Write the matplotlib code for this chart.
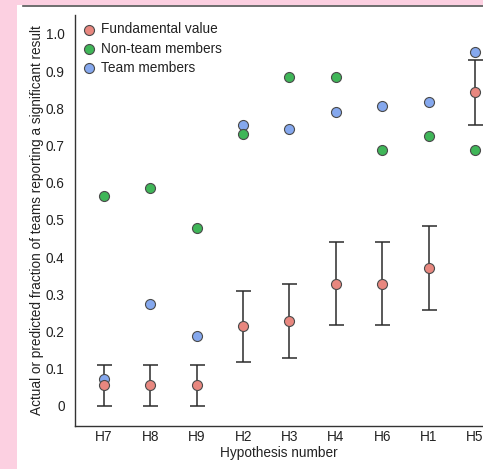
import matplotlib
matplotlib.use("Agg")
import matplotlib.pyplot as plt
from matplotlib.patches import Rectangle
from matplotlib.lines import Line2D

plt.rcParams['font.family'] = ['Liberation Sans', 'DejaVu Sans']

# data
hypotheses = ['H7', 'H8', 'H9', 'H2', 'H3', 'H4', 'H6', 'H1', 'H5']
fundamental = [0.057, 0.057, 0.057, 0.214, 0.229, 0.329, 0.329, 0.371, 0.843]
ci_low = [0.0, 0.0, 0.0, 0.119, 0.129, 0.218, 0.218, 0.258, 0.756]
ci_high = [0.11, 0.11, 0.11, 0.31, 0.327, 0.44, 0.44, 0.484, 0.929]
non_team = [0.565, 0.585, 0.477, 0.730, 0.883, 0.883, 0.688, 0.726, 0.688]
team = [0.073, 0.274, 0.189, 0.755, 0.744, 0.791, 0.806, 0.816, 0.952]

ytick_vals = [0, 0.1, 0.2, 0.3, 0.4, 0.5, 0.6, 0.7, 0.8, 0.9, 1.0]
ytick_labels = ['0', '0.1', '0.2', '0.3', '0.4', '0.5', '0.6', '0.7', '0.8', '0.9', '1.0']

c_red = '#e8877f'
c_green = '#3fb658'
c_blue = '#85a8ee'
c_edge = '#4a4a4a'
c_text = '#222222'
fs = 9.8

W, H = 483, 469
fig = plt.figure(figsize=(W / 100, H / 100), dpi=100)
fig.patch.set_facecolor('white')

# pink frame of the screenshot
fig.patches.append(Rectangle((0, 0), 17 / W, 1, transform=fig.transFigure,
                             facecolor='#fcd0e1', edgecolor='none', zorder=-10))
fig.patches.append(Rectangle((0, 1 - 5 / H), 1, 5 / H, transform=fig.transFigure,
                             facecolor='#fcd0e1', edgecolor='none', zorder=-10))
fig.add_artist(Line2D([23 / W, 1], [1 - 6 / H, 1 - 6 / H], transform=fig.transFigure,
                      color='#555555', linewidth=1.2))

ax = fig.add_axes([75 / W, 43 / H, 1 - 75 / W, (426 - 15) / H])
x = list(range(len(hypotheses)))

err_lo = [f - l for f, l in zip(fundamental, ci_low)]
err_hi = [h - f for f, h in zip(fundamental, ci_high)]
ax.errorbar(x, fundamental, yerr=[err_lo, err_hi], fmt='none', ecolor='#2b2b2b',
            elinewidth=1.1, capsize=5.4, capthick=1.1, zorder=1)

ms = 52
s_team = ax.scatter(x, team, s=ms, color=c_blue, edgecolors=c_edge, linewidths=0.8,
                    zorder=2, label='Team members')
s_non = ax.scatter(x, non_team, s=ms, color=c_green, edgecolors=c_edge, linewidths=0.8,
                   zorder=3, label='Non-team members')
s_fund = ax.scatter(x, fundamental, s=ms, color=c_red, edgecolors=c_edge, linewidths=0.8,
                    zorder=4, label='Fundamental value')

ax.set_xlim(-0.625, 8.173)
ax.set_ylim(-0.054, 1.051)
ax.set_xticks(x)
ax.set_xticklabels(hypotheses)
ax.set_yticks(ytick_vals)
ax.set_yticklabels(ytick_labels)
ax.tick_params(axis='both', length=0, labelsize=fs, colors=c_text)
ax.tick_params(axis='y', pad=7.5)
ax.tick_params(axis='x', pad=3)

for side in ['top', 'right']:
    ax.spines[side].set_visible(False)
for side in ['left', 'bottom']:
    ax.spines[side].set_color('#333333')
    ax.spines[side].set_linewidth(1.0)

ax.set_xlabel('Hypothesis number', fontsize=fs, color=c_text, labelpad=1)
ax.set_ylabel('Actual or predicted fraction of teams reporting a significant result',
              fontsize=fs, color=c_text, labelpad=1.4)

leg = ax.legend(handles=[s_fund, s_non, s_team], loc='upper left', frameon=False,
                fontsize=fs, handletextpad=-0.1, borderaxespad=0.0, labelspacing=0.38,
                bbox_to_anchor=(-0.012, 0.995))
for t in leg.get_texts():
    t.set_color(c_text)

fig.savefig('out.png', dpi=100, facecolor=fig.get_facecolor())
